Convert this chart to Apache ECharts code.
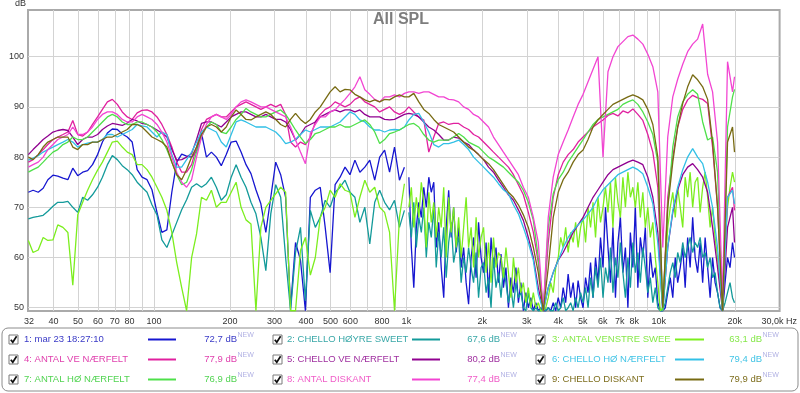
<!DOCTYPE html>
<html><head><meta charset="utf-8">
<script src="https://cdn.jsdelivr.net/npm/echarts@6/dist/echarts.min.js"></script>
<style>html,body{margin:0;padding:0;background:#fff}#c{width:800px;height:393px}</style>
</head><body><div id="c"></div>
<script>
// Frequencies (Hz) shared by the smooth traces (and the low part of the noisy ones)
const freqs = [
31.8,33.2,34.8,36.4,38.0,39.8,41.6,43.6,45.6,47.7,
49.9,52.2,54.6,57.1,59.8,62.5,65.4,68.4,71.6,74.9,
78.4,82.0,85.8,89.7,93.9,98.2,102.8,107.5,112.5,117.7,
123.1,128.8,134.7,141.0,147.5,154.3,161.4,168.9,176.7,184.8,
193.4,202.3,211.6,221.4,231.6,242.3,253.5,265.2,277.5,290.3,
303.7,317.7,332.4,347.7,363.8,380.6,398.1,416.5,435.8,455.9,
476.9,498.9,522.0,546.2,571.4,597.8,625.4,654.3,684.5,716.1,
749.2,783.8,820.0,857.9,897.5,938.9,982.2,1023,1070,1120,
1172,1227,1284,1343,1406,1471,1539,1611,1686,1764,
1846,1932,2022,2116,2214,2317,2424,2537,2655,2778,
2907,3042,3184,3331,3486,3648,3817,3995,4180,4374,
4578,4790,5012,5245,5489,5744,6011,6290,6582,6888,
7208,7543,7894,8261,8645,9047,9470,9910,10370,10850,
11360,11880,12440,13010,13620,14250,14920,15610,16330,17090,
17890,18720,19590,19950];

// Finer frequency list (1 kHz - 20 kHz) for the noisy traces 1-3
const freqsHi = [
1023,1046.5,1070,1095,1120,1146,1172,1199,1227,1255,
1284,1313,1343,1374,1406,1438,1471,1505,1539,1575,
1611,1648,1686,1725,1764,1805,1846,1889,1932,1977,
2022,2069,2116,2165,2214,2265,2317,2371,2424,2480,
2537,2595,2655,2716,2778,2842,2907,2974,3042,3112,
3184,3257,3331,3408,3486,3566,3648,3732,3817,3905,
3995,4087,4180,4276,4374,4475,4578,4683,4790,4900,
5012,5127,5245,5366,5489,5615,5744,5876,6011,6149,
6290,6435,6582,6734,6888,7046,7208,7374,7543,7716,
7894,8075,8261,8450,8645,8843,9047,9255,9470,9685,
9910,10140,10370,10610,10850,11100,11360,11620,11880,12160,
12440,12720,13010,13310,13620,13930,14250,14580,14920,15260,
15610,15970,16330,16710,17090,17490,17890,18300,18720,19150,
19590,19950];

// 1: mar 23 18:27:10 (blue)
const spl1Lo = [
73,73.4,73,73.8,75.5,76.4,76.2,75.8,75.5,77.8,
76.3,77,77.3,78.5,80.5,83,84.8,85.6,85.5,84.6,
84,83,77.5,76,75.5,73.5,69,65,65.5,73,
79,80.6,80.2,80,81.2,84.8,80,81,80,78.3,
80.5,83,83.2,81,78.5,76.7,73.5,70.7,65,72,
79,76.5,72,50,63,59.5,49.4,72,73.4,74,
66,57,74.5,76,78,76.5,79.4,77,78,79.4,
75.4,80,81.4,77,82,75.4,78];
const spl1Hi = [
76,62,54,66,71,68,74,70,76,73,
75,62,67,58,52,66,73.4,64,70,61,
66,58,62,55,50.7,60,64,56,67,60,
57,63,52,64,58,62,55,60.7,54,58,
50,56,53,58,51,55,49.4,53,50,52,
49.4,51,49.4,50,49.4,49.4,50,49.4,51,49.4,
52,50,54,51,56.7,52,55,50,55.4,52,
50,56,53,59,52,60,55,64,58,70,
62,55,66,52,63,68,57,62,50,65,
58,70,54,64,60,66,52,61,56,58,
51,49.4,49.4,50,53,56,52,60,55,58,
62,54,64,58,68,60,57,63,55,64,
58,52,60,55,53,50,49.4,55,60,58,
63,60];

// 2: CHELLO HØYRE SWEET (teal)
const spl2Lo = [
67.7,68,68.2,68.4,69.2,70.2,71,71,71.2,70,
69,72,71.4,72.5,74,76,78.5,80.3,79.5,78.3,
77.5,76.5,75,74,73,70.5,68.5,63.5,62,64.5,
67,69.5,71.5,74,74.7,74,74.7,76,74,71.4,
72.5,76,78.5,76,74,71,68.7,64,57.4,68.7,
74.5,72,60,49.4,61,66,51.4,69.4,66,68,
71.4,70,73,74,75.4,73,72,67,70,62.7,
71,73.4,71,69.5,71.4,66,69.4];
const spl2Hi = [
69,64,71,62,68,65,70,60,67,64,
70,58,65,60,66,56,63,67,59,62,
64,55,60,57,62,58,55,61,52,58,
59,53,56,50,60,54,57,52,58,55,
51,54,50,55,52,53,50,49.4,53,50,
49.4,50,49.4,49.4,50.5,49.4,50,49.4,49.4,51,
49.4,50,52,49.4,50,51,49.4,52,50,53,
51,54,50,56,52,58,54,60,52,58,
55,62,53,60,56,63,57,52,60,54,
63,57,61,55,62,58,53,56,51,54,
50,49.4,49.4,51,54,57,59,56,61,59,
63,60,62,64,61,63,62,64,60,61,
58,60,56,57,53,50,49.4,51,53,55,
52,51];

// 3: ANTAL VENSTRE SWEE (chartreuse)
const spl3Lo = [
63.4,61,61.5,64,63.4,63.5,66.5,66,65,54.5,
68.5,71,73.4,75.5,77.4,79,81,83,83.2,82,
81,80.5,78.5,78.5,77.5,76,74,72,69.4,65,
59,54,49.4,60,64.7,72,71.4,73.4,70,71,
71,73,75,70,67.5,66.7,49.4,66,70,71.4,
72.7,74,73,49.4,49.4,61.4,64,56.5,60,68,
70,73.4,72,74.7,73.4,73,68,72,75.4,73,
74,70,69,65,49.4,68,74.7];
const spl3Hi = [
70,74,66,72,68,75,71,62,73,67,
71,64,70,66,74,60,72,65,70,62,
68,60,66,72,62,66,58,68,60,64,
66,57,63,55,64,58,61,60,56,62,
57,52,60,55,58,53,55,51,54,50,
53,50,51,49.4,49.4,50,52,55,53,58,
60,64,62,66,61,65,63,67,62,66,
68,63,70,66,71,64,72,67,70,74,
69,75,66,76,71,68,76,70,77,72,
74,70,75,68,73,66,70,64,67,60,
55,49.4,50,58,66,70,73,68,74,70,
66,76,72,77,70,75,76,69,74,77,
72,66,70,64,60,55,50,62,70,74,
77,75];

// 4: ANTAL VE NÆRFELT
const spl4 = [
79,79.5,80.5,81.5,82.5,83.5,84,84.5,85,87.3,
84.5,84.2,85,86.5,88,89.5,91,91.5,90.5,89,
88,87.5,88.8,89.3,89.4,89,88,86.5,84.5,82,
79,77,77,78.5,82,85.5,87.5,88,88.5,88,
88,89,90,90.5,91,90.5,90,89.5,90,90.5,
90,90.5,88.5,83,82,83,82.5,84,87,88.5,
89.5,90,91,90.5,90,90.5,91.5,92,91,90.5,
90,89,89.5,90,89,88.5,89,90,89,88,
87.4,81,84,86.7,87,86.5,86.7,86.7,86,85.5,
84.5,84,83,82,81,80,79,78,76.5,74.5,
72.5,69,65,59,49.4,63,72,76.5,79,80.5,
81.5,83,84,85,86,86.7,87.4,88.3,88.7,88.2,
89.2,88.8,89.6,88.5,87.3,84.5,81,74,49.4,72,
80,86,89.5,91.4,92.3,91.8,91.5,90.7,82,70,
49.4,72,74,69.4];

// 5: CHELLO VE NÆRFELT
const spl5 = [
80.5,81.5,82.5,83.5,84.2,85,85.3,85.5,85.3,84,
82.5,83.5,84,84,84.5,85.5,86.2,86.7,86.5,86.3,
86.8,87.5,87.2,86.7,86.5,86,85.4,84.8,84,81.5,
79.4,79.5,80,80.7,83.5,86.7,87,87,86.5,86,
87,88,88.5,89,89,88.5,88,88,88.5,88,
87.5,87.5,87,85.5,83.4,84.5,86,86.5,87,88,
88.5,89,89.4,89,89.4,89.4,89,89.4,88.5,88,
88,88,87.5,87.4,87.5,88,88.5,88.7,88.5,88,
87,86,85.4,84.5,83.4,83.4,84,83.8,83,82.5,
81.4,80.5,79.5,78,77,75.4,74,72.5,71.4,69.5,
67.4,64,60,54,49.4,54,57,59.5,61,63,
65,66.5,68,70,72,73.5,75,76.5,77.5,78,
78.5,79,79.4,79,78.5,76,72,65,49.4,62,
69,73.5,76.5,78,78.7,77.5,76,73,66,58,
49.4,66,70,63];

// 6: CHELLO HØ NÆRFELT
const spl6 = [
79.4,79.8,80.3,81,81.5,82,82.5,83,83.5,83,
82,82.5,82.8,83,83,83.5,84.5,84.5,84,84.5,
85,85.5,86.5,86.2,86,85,84,85,84.5,80.5,
78,78,79.5,81,83,85,86,85.5,85,83,
82,84.5,87,87.4,87,86.5,86,86,86,85.5,
85,84,82.7,83,83.5,84.5,85.4,85,85.5,86,
86,86,86.5,87,88,89,88.5,87.4,87,86,
85.4,85.4,85,85.4,85.5,85.4,86,87.4,88.5,88.7,
87,85,82.5,82,82.7,82.7,83,83.4,82.5,81.5,
80,79,78,77,76,74.7,73.5,72.7,70.5,68.7,
66,63,59.4,52.7,49.4,54,57,59.4,62,64,
65.4,66.5,67.5,68.7,70,72,73.5,74.5,75.5,76.5,
77,77.5,78,77.5,76.7,74,70.7,63,49.4,62,
69.4,74,77.5,80,81.7,80,78.7,75,70,62,
49.4,72,73.4,70.7];

// 7: ANTAL HØ NÆRFELT
const spl7 = [
77,77.5,78,79,80,81,81.5,82.5,83,84,
83.5,83.5,84,85,86,87,88,88.5,88,87,
86.5,86.5,87,87,86.5,86,85,83.5,81.5,79,
76.5,74.5,75,77.5,81,84,86,87,86.5,85,
84.7,86,87.5,88.5,89.7,89,88.5,88,88,88.5,
89,89.4,88.5,87,85.4,84,82.7,83.5,84.7,85,
85.5,86,86,86.5,86,86,86.5,87,87.4,86.5,
85,82.7,83.5,84.7,85,85.4,86,86.5,86.7,86,
84.5,83.4,83,83.4,83.4,83.4,84,84.7,84,83,
82.5,82,81,80,79.4,78.7,78,77,76,75,
73.4,71,67.4,60,49.4,66,72.7,75.5,77,79,
80.5,82,83.5,85,86.5,87.5,88,88.5,89,89.5,
90.5,91,91.4,90.5,89,87,84.5,79,49.4,70,
82,88,91,92.5,93.4,92.5,87,83.4,84,77,
49.4,86,92,93.5];

// 8: ANTAL DISKANT
const spl8 = [
78,78.5,79,80,81.5,82.5,83.5,84,84.5,86,
84.5,84.5,85,86,87.5,88.5,89,89,88.5,87.5,
87,87,88,88.5,88,87.5,86.5,85,83,80,
77,75,74,75.5,80,84,86.5,88,88.5,88,
87.5,88.5,90,91,91.4,91,90.5,90,90,89.5,
89,88.5,88,86,83.4,81,78.7,84.7,86.5,88,
88,89,89.4,90.5,91.5,92.7,94,96,93.4,92.5,
91.5,91,92,92,92.4,92,92.7,93,93,92.7,
93,93,92.5,92,92,91.5,91.4,91,90,89.5,
88.5,88,87,86,84,82.5,81,79.5,78,76.5,
74,72,68,63,49.4,68,76,80.5,83,85.4,
88,90.5,92.5,95,97.5,100,80,97,100,102,
103,104,104.3,103.5,102.5,100.5,98,93,62,84,
92,95.5,98.5,101,102.5,103.5,106.5,96.5,93,83,
51.4,99,93,96];

// 9: CHELLO DISKANT
const spl9 = [
80,79.5,80.5,82,83,83.5,84,84,84,82,
81.5,82.5,82.5,83,83,83.5,84,84,84.5,85,
85.5,86.5,86.5,86,85,84,83.5,83,82,79,
76.5,75.5,77.5,80,82,84.5,86,86.5,86,85,
86,88,89.4,88.5,87.5,87.4,88,88.5,89,88.5,
87.5,86.5,86,87.5,88.7,87.5,86.7,87.5,89,90,
91.5,93,94,93,93.5,93.4,92.5,92,91.4,91,
91.4,91,91.5,91.4,92,92.4,92,92,92.7,91,
89.5,88.7,87.5,86.5,86,85.5,85,84,83,82,
81.4,80.5,79.5,78.7,77.5,76,74.5,73,72,70.5,
68.5,66,62,57,49.4,58,68,73,75.5,77,
79,80.5,81.4,83.5,86,87.4,88.5,89.5,90.5,91,
91.5,92,92.4,92,91.4,89.5,86.5,80,50,70,
79,86,90.7,94,96.4,95.4,94,91.5,83,70,
49.4,83,86,81];

const seriesNames = ['1: mar 23 18:27:10','2: CHELLO HØYRE SWEET','3: ANTAL VENSTRE SWEE',
  '4: ANTAL VE NÆRFELT','5: CHELLO VE NÆRFELT','6: CHELLO HØ NÆRFELT',
  '7: ANTAL HØ NÆRFELT','8: ANTAL DISKANT','9: CHELLO DISKANT'];
const avgLabels = ['72,7 dB','67,6 dB','63,1 dB','77,9 dB','80,2 dB','79,4 dB','76,9 dB','77,4 dB','79,9 dB'];
const xGridFreqs = [40,50,60,70,80,90,100,200,300,400,500,600,700,800,900,1000,2000,3000,4000,5000,6000,7000,8000,9000,10000,20000];
const xLabelFreqs = [32,40,50,60,70,80,100,200,300,400,500,600,800,1000,2000,3000,4000,5000,6000,7000,8000,10000,20000,30000];
const yTicks = [50,60,70,80,90,100];

const lineColors = ['#1616d0','#139a9a','#7cee1e','#e0209f','#900090','#32c0e6','#4ee04a','#f245d2','#776a12'];
const textColors = ['#3a3ac6','#3aa8a8','#86e84a','#e040ae','#a030a0','#42c4e6','#52d452','#f05cc8','#7e6e1e'];

const FONT = '"Liberation Sans", Arial, sans-serif';
const pair = (fs, vals) => fs.map((f, i) => [f, vals[i]]);
const traceData = [
  pair(freqs, spl1Lo).concat(pair(freqsHi, spl1Hi)),
  pair(freqs, spl2Lo).concat(pair(freqsHi, spl2Hi)),
  pair(freqs, spl3Lo).concat(pair(freqsHi, spl3Hi)),
  pair(freqs, spl4), pair(freqs, spl5), pair(freqs, spl6),
  pair(freqs, spl7), pair(freqs, spl8), pair(freqs, spl9)
];

const series = traceData.map((d, k) => ({
  name: seriesNames[k], type: 'line', showSymbol: false, symbol: 'none',
  data: d,
  lineStyle: { color: lineColors[k], width: 1.3 },
  itemStyle: { color: lineColors[k] },
  clip: true, silent: true
}));

// legend panel graphics
const cols = [
  {box: 9, text: 24, l0: 148, l1: 176, valR: 237},
  {box: 273, text: 287, l0: 412, l1: 440, valR: 500},
  {box: 536, text: 552, l0: 675, l1: 704, valR: 762}
];
const rowsY = [339.5, 359.5, 379.5];
const graphics = [
  {type: 'rect', shape: {x: 2, y: 328, width: 796, height: 63, r: 6}, style: {fill: '#fff', stroke: '#8c8c8c', lineWidth: 1}, z: 1},
  {type: 'text', x: 15, y: 4, style: {text: 'dB', font: '9px ' + FONT, fill: '#333', textVerticalAlign: 'middle'}, z: 5}
];
seriesNames.forEach((nm, k) => {
  const c = cols[k % 3], y = rowsY[Math.floor(k / 3)];
  graphics.push({type: 'rect', shape: {x: c.box, y: y - 4.5, width: 9, height: 9}, style: {fill: '#fff', stroke: '#7a7a7a', lineWidth: 1}, z: 5});
  graphics.push({type: 'polyline', shape: {points: [[c.box + 1.8, y + 0.2], [c.box + 3.8, y + 2.8], [c.box + 7.6, y - 3.2]]}, style: {stroke: '#111', lineWidth: 1.7, fill: null}, z: 6});
  graphics.push({type: 'text', x: c.text, y: y, style: {text: nm, font: '9.5px ' + FONT, fill: textColors[k], textVerticalAlign: 'middle'}, z: 5});
  graphics.push({type: 'line', shape: {x1: c.l0, y1: y, x2: c.l1, y2: y}, style: {stroke: lineColors[k], lineWidth: 2}, z: 5});
  graphics.push({type: 'text', x: c.valR, y: y, style: {text: avgLabels[k], font: '9.5px ' + FONT, fill: textColors[k], textAlign: 'right', textVerticalAlign: 'middle'}, z: 5});
  graphics.push({type: 'text', x: c.valR + 0.5, y: y - 4, style: {text: 'NEW', font: '7px ' + FONT, fill: '#b2b2e4', textVerticalAlign: 'middle'}, z: 5});
});

const chart = echarts.init(document.getElementById('c'), null, {renderer: 'canvas'});
chart.setOption({
  animation: false,
  backgroundColor: '#fff',
  title: {text: 'All SPL', left: 373, top: 12, padding: 0,
    textStyle: {fontSize: 16, fontWeight: 'bold', color: '#7d7d7d', fontFamily: FONT}},
  grid: {left: 28, right: 14, top: 10, bottom: 82, show: true, borderColor: '#aaaaaa', borderWidth: 2, backgroundColor: '#fff'},
  xAxis: {
    type: 'log', logBase: 10, min: 31.7, max: 30100,
    axisLine: {show: false},
    axisTick: {show: false, customValues: xGridFreqs},
    splitLine: {show: true, lineStyle: {color: '#d3d3d3', width: 1}},
    axisLabel: {
      customValues: xLabelFreqs, fontSize: 9, color: '#333', fontFamily: FONT, margin: 6,
      formatter: v => {
        const r = Math.round(v);
        if (r >= 29000) return '30,0k Hz';
        if (r >= 1000) return (r / 1000) + 'k';
        return String(r);
      }
    }
  },
  yAxis: {
    type: 'value', min: 49.35, max: 109.3,
    axisLine: {show: false},
    axisTick: {show: false, customValues: yTicks},
    splitLine: {show: true, lineStyle: {color: '#d3d3d3', width: 1}},
    axisLabel: {customValues: yTicks, fontSize: 9, color: '#333', fontFamily: FONT, margin: 4}
  },
  series: series,
  graphic: graphics
});
</script>
</body></html>
